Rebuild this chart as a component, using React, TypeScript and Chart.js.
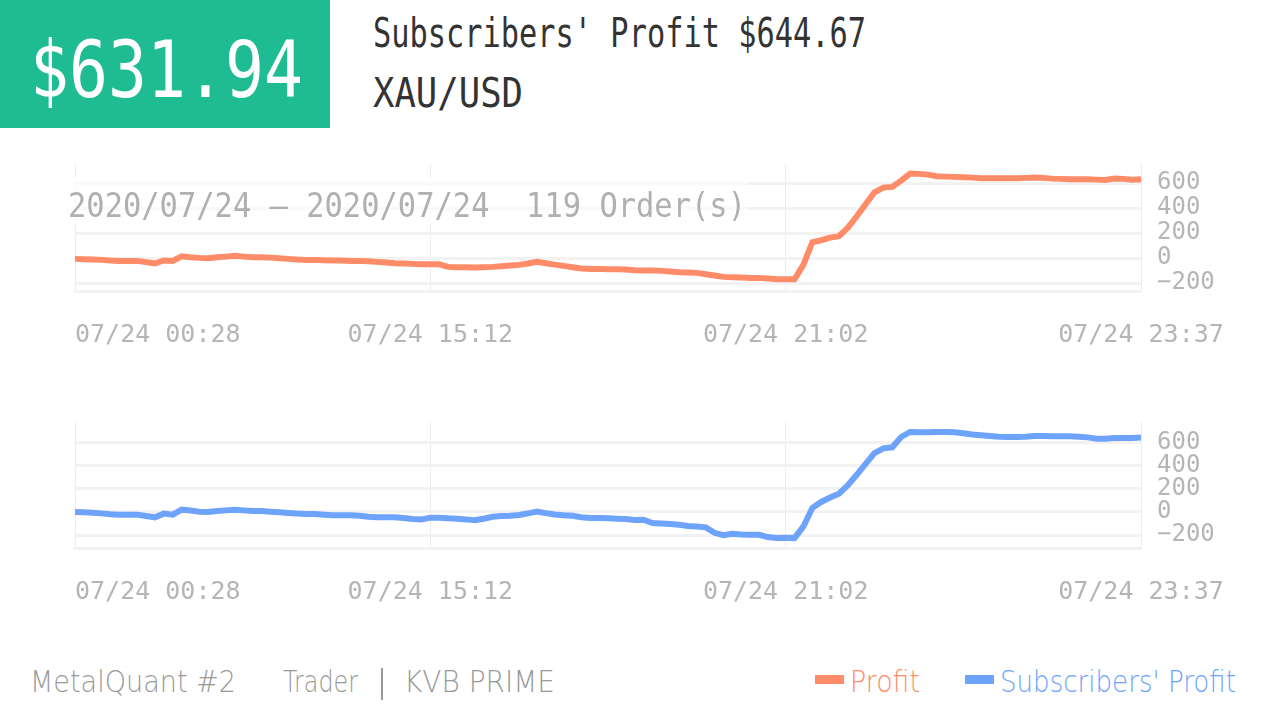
import React, { useEffect, useLayoutEffect, useRef } from 'react';
import Chart from 'chart.js/auto';

// x axis: order index, a time label every 40 orders
const TICK_INDEX = [0, 40, 80, 120];
const TICK_LABELS = ['07/24 00:28', '07/24 15:12', '07/24 21:02', '07/24 23:37'];
const Y_TICKS = [-200, 0, 200, 400, 600];

const PROFIT = [
  -5, -8, -10, -13, -18, -21, -21, -21, -31, -42,
  -18, -21, 16, 8, 3, 0, 8, 13, 19, 13,
  8, 8, 5, 0, -5, -10, -13, -13, -16, -18,
  -18, -21, -21, -24, -29, -34, -40, -42, -45, -48,
  -48, -48, -69, -72, -72, -74, -72, -69, -64, -58,
  -53, -42, -29, -40, -51, -61, -72, -82, -85, -85,
  -88, -88, -90, -96, -98, -98, -101, -106, -112, -114,
  -117, -128, -138, -149, -152, -154, -157, -157, -162, -168,
  -168, -168, -51, 128, 144, 165, 176, 245, 336, 432,
  528, 565, 571, 621, 677, 675, 669, 656, 653, 651,
  648, 645, 640, 640, 640, 640, 640, 643, 645, 643,
  637, 635, 632, 632, 632, 629, 627, 637, 635, 629,
  632,
];

const SUBSCRIBER_PROFIT = [
  0, -3, -6, -12, -20, -23, -23, -23, -35, -46,
  -14, -23, 20, 12, 3, 0, 9, 14, 20, 14,
  9, 9, 3, -3, -9, -14, -17, -17, -23, -29,
  -29, -29, -32, -41, -46, -46, -46, -52, -61, -64,
  -49, -49, -55, -58, -64, -72, -58, -41, -35, -32,
  -26, -12, 3, -10, -22, -29, -32, -46, -52, -52,
  -55, -58, -61, -69, -67, -96, -99, -104, -110, -122,
  -125, -133, -180, -200, -188, -194, -197, -197, -217, -226,
  -223, -226, -125, 35, 87, 125, 159, 232, 322, 417,
  510, 551, 560, 649, 693, 690, 690, 693, 693, 690,
  681, 670, 664, 658, 652, 649, 649, 652, 658, 658,
  655, 655, 655, 652, 646, 635, 635, 641, 641, 641,
  645,
];

const ORANGE = '#ff8c69';
const BLUE = '#6ea3fc';
const GREEN = '#1fbc93';
const AXIS_GREY = '#b5b5b5';
const MONO = '"DejaVu Sans Mono", "Liberation Mono", monospace';
const SANS = '"DejaVu Sans", "Liberation Sans", sans-serif';

const CANVAS_W = 1266;
const CANVAS_H = 210;

interface FitTextProps {
  text: string;
  x: number;
  baseline: number;
  size: number;
  width: number;
  color: string;
  family?: string;
  weight?: number;
}

// text squeezed horizontally to the width it has in the picture
const FitText: React.FC<FitTextProps> = ({ text, x, baseline, size, width, color, family = MONO, weight = 400 }) => {
  const ref = useRef<HTMLSpanElement | null>(null);

  useLayoutEffect(() => {
    const el = ref.current;
    if (!el) return;
    el.style.transform = 'none';
    const natural = el.getBoundingClientRect().width;
    if (natural > 0) el.style.transform = `scaleX(${width / natural})`;
  }, [text, width, size]);

  return (
    <span
      ref={ref}
      style={{
        position: 'absolute',
        left: x,
        top: baseline - 0.846 * size,
        fontFamily: family,
        fontSize: size,
        fontWeight: weight,
        lineHeight: 1,
        color,
        whiteSpace: 'pre',
        transformOrigin: '0 0',
      }}
    >
      {text}
    </span>
  );
};

interface ProfitChartProps {
  values: number[];
  label: string;
  color: string;
  min: number;
  max: number;
  top: number;
  padTop: number;
  axisHeight: number;
}

const ProfitChart: React.FC<ProfitChartProps> = ({ values, label, color, min, max, top, padTop, axisHeight }) => {
  const canvasRef = useRef<HTMLCanvasElement | null>(null);

  useEffect(() => {
    if (!canvasRef.current) return;
    const chart = new Chart(canvasRef.current, {
      type: 'line',
      data: {
        labels: values.map((_, i) => String(i)),
        datasets: [
          {
            label,
            data: values,
            borderColor: color,
            backgroundColor: color,
            borderWidth: 6,
            pointRadius: 0,
            tension: 0,
            fill: false,
          },
        ],
      },
      options: {
        responsive: false,
        animation: false,
        events: [],
        layout: { padding: { left: 75, top: padTop, right: 0, bottom: 0 } },
        plugins: { legend: { display: false }, tooltip: { enabled: false } },
        scales: {
          x: {
            type: 'category',
            afterBuildTicks: scale => {
              scale.ticks = TICK_INDEX.map(v => ({ value: v }));
            },
            afterFit: scale => {
              scale.height = axisHeight;
              // keep the plot edges fixed, labels may hang over
              scale.paddingLeft = 0;
              scale.paddingRight = 0;
            },
            grid: { color: '#ededed', lineWidth: 1, drawTicks: false },
            border: { display: true, color: '#f2f2f2', width: 3 },
            ticks: {
              autoSkip: false,
              maxRotation: 0,
              padding: 29,
              color: AXIS_GREY,
              font: { family: MONO, size: 25 },
              // first label starts at the axis instead of centring on it
              callback: (_, i) =>
                i === 0 ? ' '.repeat(TICK_LABELS[0].length) + TICK_LABELS[0] : TICK_LABELS[i],
            },
          },
          y: {
            position: 'right',
            min,
            max,
            afterBuildTicks: scale => {
              scale.ticks = Y_TICKS.map(v => ({ value: v }));
            },
            afterFit: scale => {
              scale.width = 125;
              scale.paddingTop = 0;
              scale.paddingBottom = 0;
            },
            grid: { color: '#f2f2f2', lineWidth: 3, drawTicks: false },
            border: { display: false },
            ticks: {
              autoSkip: false,
              padding: 16,
              color: AXIS_GREY,
              font: { family: MONO, size: 24, lineHeight: 1 },
              callback: v => (Number(v) < 0 ? '\u2212' + Math.abs(Number(v)) : String(v)),
            },
          },
        },
      },
    });

    return () => chart.destroy();
  }, [values, label, color, min, max, padTop, axisHeight]);

  return (
    <canvas
      ref={canvasRef}
      width={CANVAS_W}
      height={CANVAS_H}
      style={{ position: 'absolute', left: 0, top, width: CANVAS_W, height: CANVAS_H, display: 'block' }}
    />
  );
};

export default function App() {
  return (
    <div
      style={{
        position: 'absolute',
        left: 0,
        top: 0,
        width: 1266,
        height: 719,
        overflow: 'hidden',
        background: '#ffffff',
      }}
    >
      <div style={{ position: 'absolute', left: 0, top: 0, width: 330, height: 128, background: GREEN }} />
      <FitText text="$631.94" x={30} baseline={97} size={78} width={273} color="#ffffff" />
      <FitText text="Subscribers' Profit $644.67" x={373} baseline={47} size={40} width={493} color="#333333" />
      <FitText text="XAU/USD" x={373} baseline={108} size={41} width={150} color="#333333" />

      <ProfitChart
        values={PROFIT}
        label="Profit"
        color={ORANGE}
        min={-262}
        max={754}
        top={150}
        padTop={14}
        axisHeight={69}
      />
      <div
        style={{
          position: 'absolute',
          left: 68,
          top: 177,
          width: 680,
          height: 48,
          background: 'rgba(255,255,255,0.55)',
        }}
      />
      <FitText
        text="2020/07/24 — 2020/07/24  119 Order(s)"
        x={68}
        baseline={217}
        size={33}
        width={678}
        color="#b0b0b0"
      />

      <ProfitChart
        values={SUBSCRIBER_PROFIT}
        label="Subscribers' Profit"
        color={BLUE}
        min={-316}
        max={779}
        top={410}
        padTop={12}
        axisHeight={71.5}
      />

      <FitText text="MetalQuant #2" x={30} baseline={692} size={30} width={206} color="#999999" family={SANS} weight={200} />
      <FitText text="Trader" x={283} baseline={692} size={30} width={75} color="#999999" family={SANS} weight={200} />
      <div style={{ position: 'absolute', left: 381, top: 668, width: 1.5, height: 32, background: '#999999' }} />
      <FitText text="KVB PRIME" x={404} baseline={692} size={30} width={151} color="#999999" family={SANS} weight={200} />

      <div style={{ position: 'absolute', left: 815, top: 675, width: 29, height: 9, background: ORANGE }} />
      <FitText text="Profit" x={850} baseline={692} size={30} width={70} color={ORANGE} family={SANS} weight={200} />
      <div style={{ position: 'absolute', left: 965, top: 675, width: 29, height: 9, background: BLUE }} />
      <FitText
        text="Subscribers' Profit"
        x={1000}
        baseline={692}
        size={30}
        width={236}
        color={BLUE}
        family={SANS}
        weight={200}
      />
    </div>
  );
}
